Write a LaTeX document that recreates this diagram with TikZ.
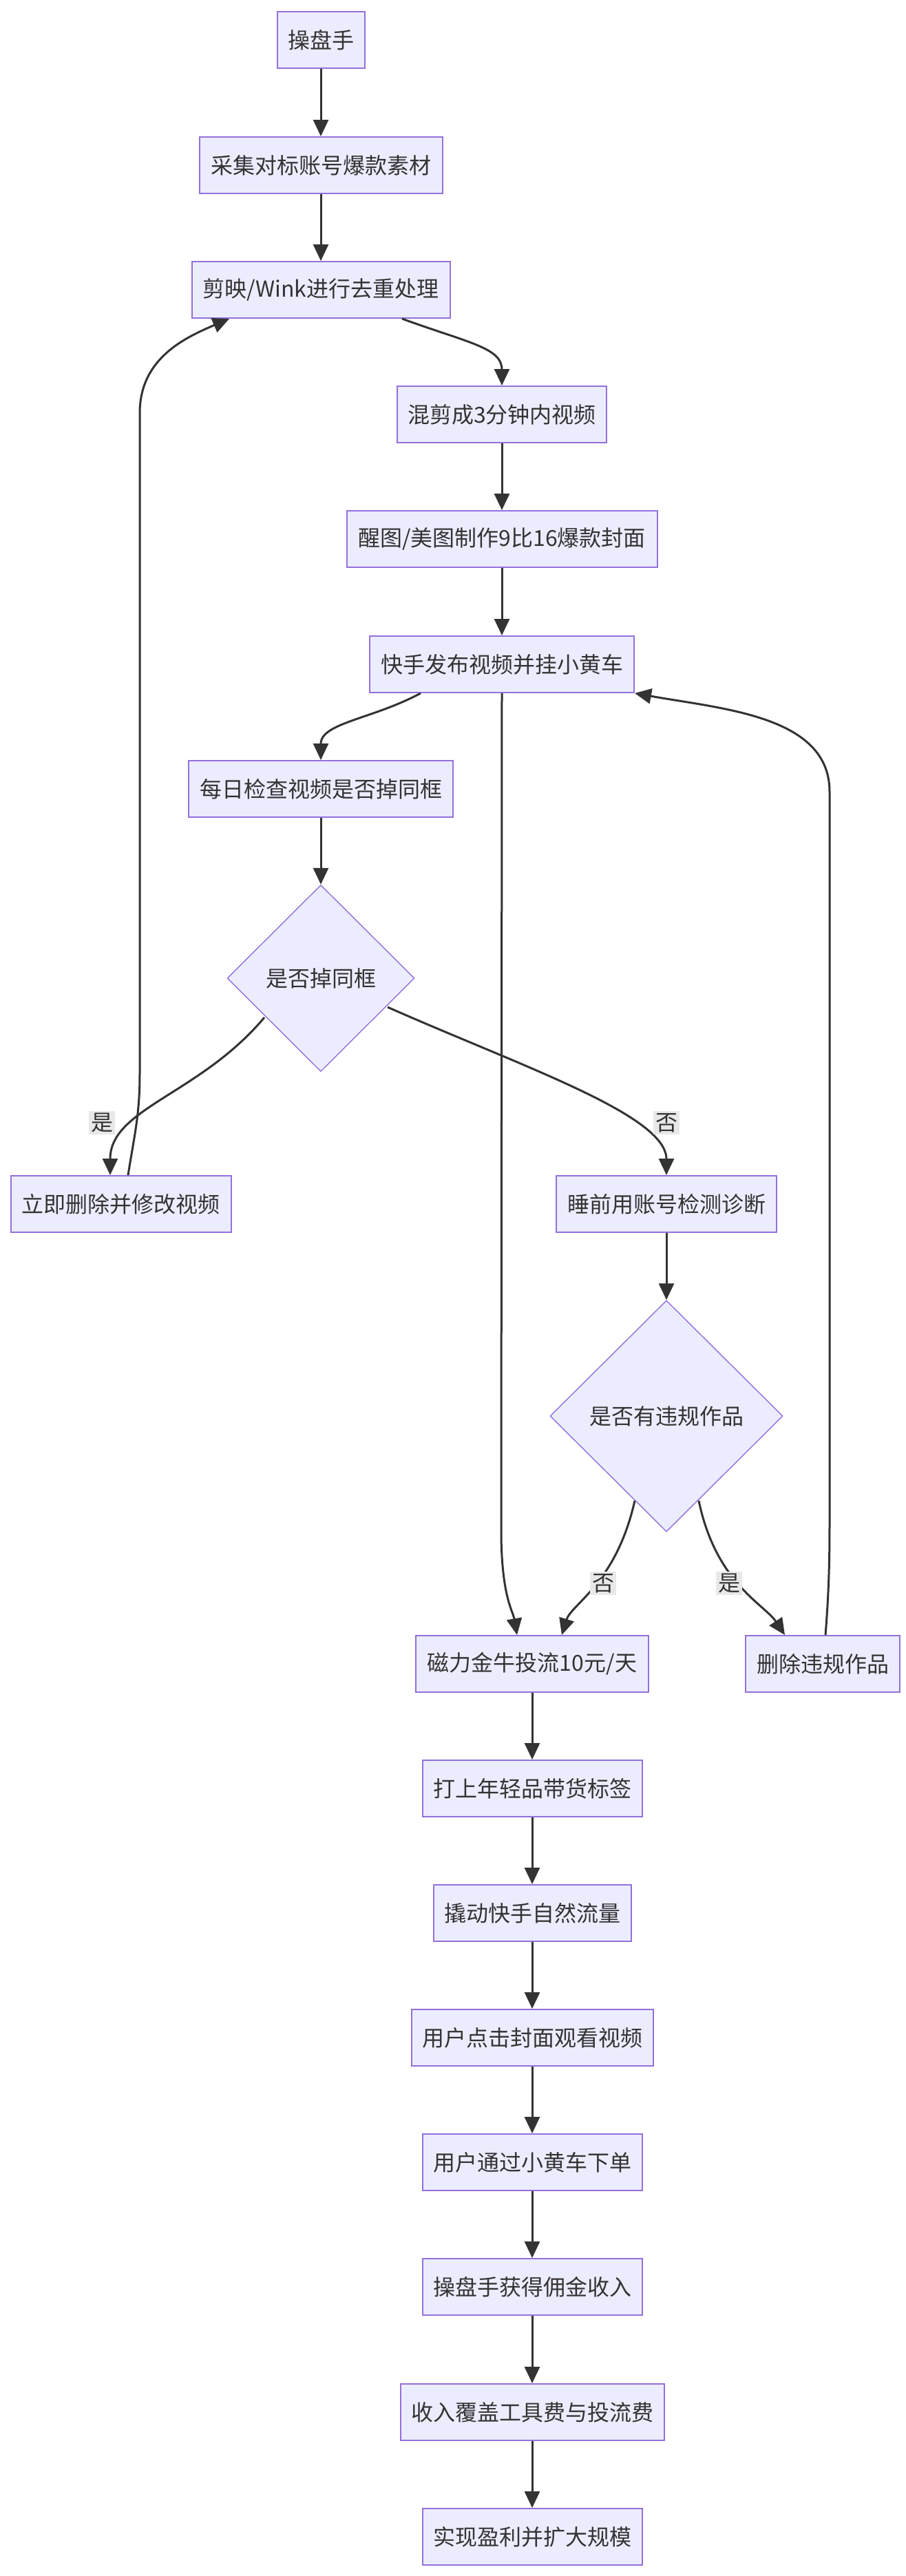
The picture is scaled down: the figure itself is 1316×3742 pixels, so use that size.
\documentclass[tikz,border=0pt]{standalone}
\usepackage{fontspec}
\setmainfont{Noto Sans CJK SC}
\usetikzlibrary{arrows.meta,shapes.geometric,calc}
\definecolor{nfill}{HTML}{ECECFF}
\definecolor{nline}{HTML}{9370DB}
\definecolor{eline}{HTML}{333333}
\definecolor{lbg}{HTML}{E8E8E8}
\definecolor{tcol}{HTML}{333333}
\begin{document}
\begin{tikzpicture}[x=0.5pt,y=-0.5pt,
  txt/.style={text=tcol,font=\fontsize{16pt}{18pt}\selectfont},
  box/.style={txt,draw=nline,fill=nfill,line width=1pt,minimum height=41pt,inner sep=0pt},
  dia/.style={txt,diamond,draw=nline,fill=nfill,line width=0.7pt,inner sep=0pt},
  edge/.style={draw=eline,line width=1.5pt,-{Triangle[length=12pt,width=11pt]}},
  lab/.style={txt,fill=lbg,inner sep=1.5pt}]
\fill[white] (0,0) rectangle (1316,3742);
\useasboundingbox (0,0) rectangle (1316,3742);

\node[box,minimum width=63.5pt] (n1) at (466,58) {操盘手};
\node[box,minimum width=176.5pt] (n2) at (466,240) {采集对标账号爆款素材};
\node[box,minimum width=187.5pt] (n3) at (466,421) {剪映/Wink进行去重处理};
\node[box,minimum width=152pt] (n4) at (729,602) {混剪成3分钟内视频};
\node[box,minimum width=225.5pt] (n5) at (729,783) {醒图/美图制作9比16爆款封面};
\node[box,minimum width=192pt] (n6) at (729,965) {快手发布视频并挂小黄车};
\node[box,minimum width=192pt] (n7) at (466,1146) {每日检查视频是否掉同框};
\node[dia,minimum width=136pt,minimum height=135.5pt] (d1) at (466,1421) {是否掉同框};
\node[box,minimum width=160pt] (n8) at (176,1749) {立即删除并修改视频};
\node[box,minimum width=160pt] (n9) at (968,1749) {睡前用账号检测诊断};
\node[dia,minimum width=169pt,minimum height=168pt] (d2) at (968,2057) {是否有违规作品};
\node[box,minimum width=169pt] (n10) at (773,2417) {磁力金牛投流10元/天};
\node[box,minimum width=112pt] (n11) at (1195,2417) {删除违规作品};
\node[box,minimum width=159.5pt] (n12) at (773,2598) {打上年轻品带货标签};
\node[box,minimum width=143.5pt] (n13) at (773,2779) {撬动快手自然流量};
\node[box,minimum width=175.5pt] (n14) at (773,2960) {用户点击封面观看视频};
\node[box,minimum width=159.5pt] (n15) at (773,3141) {用户通过小黄车下单};
\node[box,minimum width=159.5pt] (n16) at (773,3322) {操盘手获得佣金收入};
\node[box,minimum width=191.5pt] (n17) at (773,3504) {收入覆盖工具费与投流费};
\node[box,minimum width=159.5pt] (n18) at (773,3685) {实现盈利并扩大规模};

% straight edges
\draw[edge] (n1) -- (n2);
\draw[edge] (n2) -- (n3);
\draw[edge] (n4) -- (n5);
\draw[edge] (n5) -- (n6);
\draw[edge] (n7) -- (d1);
\draw[edge] (n9) -- (d2);
\draw[edge] (n10) -- (n12);
\draw[edge] (n12) -- (n13);
\draw[edge] (n13) -- (n14);
\draw[edge] (n14) -- (n15);
\draw[edge] (n15) -- (n16);
\draw[edge] (n16) -- (n17);
\draw[edge] (n17) -- (n18);

% curved edges
\draw[edge] ($(n3.south)+(118,0)$) .. controls (680,498) and (729,505) .. (n4.north);
\draw[edge] ($(n6.south)+(-118,0)$) .. controls (540,1045) and (466,1050) .. (n7.north);
\draw[edge] (n6.south) -- (728,2230) .. controls (729,2320) and (745,2340) .. ($(n10.north)+(-22,0)$);
\draw[edge] (384,1478) .. controls (290,1590) and (160,1610) .. ($(n8.north)+(-16,0)$);
\draw[edge] (563,1463) .. controls (760,1550) and (968,1620) .. (n9.north);
\draw[edge] ($(n8.north)+(10,0)$) .. controls (195,1650) and (203,1620) .. (203,1560) -- (203,600) .. controls (203,520) and (270,490) .. ($(n3.south)+(-133,0)$);
\draw[edge] (922,2180) .. controls (895,2300) and (830,2330) .. ($(n10.north)+(43,0)$);
\draw[edge] (1015,2180) .. controls (1040,2300) and (1110,2330) .. ($(n11.north)+(-55,0)$);
\draw[edge] ($(n11.north)+(4,0)$) .. controls (1205,2300) and (1205,2250) .. (1205,2200) -- (1205,1150) .. controls (1205,1040) and (1050,1030) .. (n6.south east);

% edge labels
\node[lab] (l1) at (148,1631) {是};
\node[lab] (l2) at (968,1631) {否};
\node[lab] (l3) at (876,2300) {否};
\node[lab] (l4) at (1059,2300) {是};
\end{tikzpicture}
\end{document}
